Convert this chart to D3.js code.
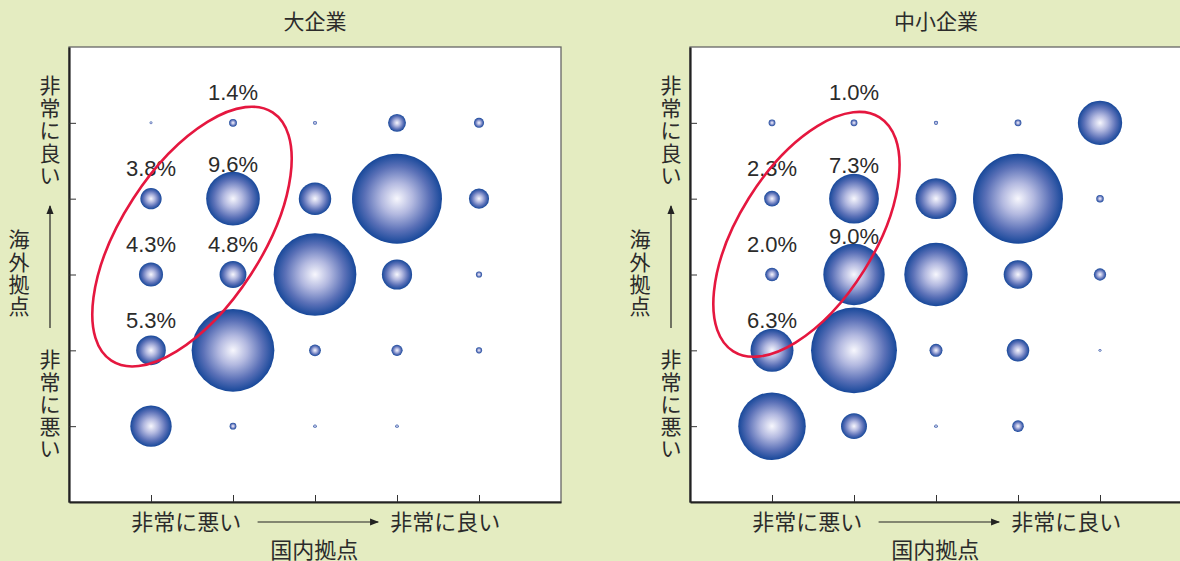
<!DOCTYPE html>
<html>
<head>
<meta charset="utf-8">
<script src="https://cdn.jsdelivr.net/npm/d3@7"></script>
<style>
  body { margin: 0; background: #e4ecc1; }
  svg { display: block; }
  .jp { font-family: "Noto Sans CJK JP", "Noto Sans", sans-serif; fill: #2b2b2b; }
  .pct { font-family: "Liberation Sans", Arial, sans-serif; fill: #2b2b2b; }
</style>
</head>
<body>
<svg></svg>
<script>

var width = 1180;
var height = 561;

// levels 1 (非常に悪い) .. 5 (非常に良い)
var levels = [1, 2, 3, 4, 5];

// share of firms (%), rows = 海外拠点 level 1..5 (bottom to top), columns = 国内拠点 level 1..5
var largeValues = [
    [7.4, 1.2, 0.6, 0.6, 0],
    [5.3, 14.8, 2.1, 2.0, 1.1],
    [4.3, 4.8, 14.8, 5.4, 1.1],
    [3.8, 9.6, 5.8, 16.1, 3.6],
    [0.5, 1.4, 0.7, 3.2, 1.8]
];

var smeValues = [
    [9.9, 3.8, 0.5, 1.7, 0],
    [6.3, 12.6, 1.9, 3.3, 0.4],
    [2.0, 9.0, 9.3, 4.2, 1.8],
    [2.3, 7.3, 6.0, 13.2, 1.1],
    [1.0, 1.0, 0.6, 1.0, 6.5]
];

// cells that get a % label: [domestic, overseas]
var labelledCells = [[1, 2], [1, 3], [1, 4], [2, 3], [2, 4], [2, 5]];

var panelTitles = ['大企業', '中小企業'];
var goodText = '非常に良い';
var badText = '非常に悪い';
var yTitle = '海外拠点';
var xTitle = '国内拠点';

//..................................................................................//

var svg = d3.select('svg')
    .attr('width', width)
    .attr('height', height);

var defs = svg.append('defs');

var grad = defs.append('radialGradient').attr('id', 'ball');
grad.append('stop').attr('offset', '0%').attr('stop-color', '#f7f7fd');
grad.append('stop').attr('offset', '35%').attr('stop-color', '#b3b9e0');
grad.append('stop').attr('offset', '72%').attr('stop-color', '#5a70b7');
grad.append('stop').attr('offset', '100%').attr('stop-color', '#17489a');

defs.append('marker')
    .attr('id', 'arrow')
    .attr('viewBox', '0 0 10 10')
    .attr('refX', 9).attr('refY', 5)
    .attr('markerWidth', 9).attr('markerHeight', 9)
    .attr('markerUnits', 'userSpaceOnUse')
    .attr('orient', 'auto')
    .append('path')
    .attr('d', 'M0,1L10,5L0,9Z')
    .attr('fill', '#222');

var panels = [
    { title: panelTitles[0], values: largeValues, left: 69, ring: { cx: 1.5, cy: 3.5, rx: 148, ry: 70, angle: -57 } },
    { title: panelTitles[1], values: smeValues, left: 690, ring: { cx: 1.42, cy: 3.53, rx: 138, ry: 68, angle: -58 } }
];

var fmt = d3.format('.1f');

panels.forEach(function (p) {

    var x = d3.scaleLinear().domain([0, 6]).range([p.left, p.left + 492]);
    var y = d3.scaleLinear().domain([0, 6]).range([502, 47]);

    var cells = [];
    p.values.forEach(function (row, j) {
        row.forEach(function (v, i) {
            cells.push({ dx: levels[i], ov: levels[j], v: v });
        });
    });

    var maxV = d3.max(cells, function (d) { return d.v; });
    var r = d3.scaleLinear().domain([0, maxV]).range([0, 45]);

    var g = svg.append('g');

    // plot box
    g.append('rect')
        .attr('x', x(0)).attr('y', y(6))
        .attr('width', x(6) - x(0)).attr('height', y(0) - y(6))
        .attr('fill', '#fff')
        .attr('stroke', '#666')
        .attr('stroke-width', 1.3);

    var xAxis = d3.axisBottom(x).tickValues(levels).tickSize(-7).tickSizeOuter(0).tickFormat('');
    var yAxis = d3.axisLeft(y).tickValues(levels).tickSize(-7).tickSizeOuter(0).tickFormat('');

    g.append('g').attr('transform', 'translate(0,' + y(0) + ')').call(xAxis)
        .call(function (a) {
            a.select('.domain').attr('stroke', '#222').attr('stroke-width', 2.2);
            a.selectAll('.tick line').attr('stroke', '#333').attr('stroke-width', 1);
        });

    g.append('g').attr('transform', 'translate(' + x(0) + ',0)').call(yAxis)
        .call(function (a) {
            a.select('.domain').attr('stroke', '#222').attr('stroke-width', 2.2);
            a.selectAll('.tick line').attr('stroke', '#333').attr('stroke-width', 1);
        });

    // bubbles
    g.selectAll('circle.ball')
        .data(cells.filter(function (d) { return d.v > 0; }))
        .enter()
        .append('circle')
        .attr('class', 'ball')
        .attr('cx', function (d) { return x(d.dx); })
        .attr('cy', function (d) { return y(d.ov); })
        .attr('r', function (d) { return Math.max(1.2, r(d.v)); })
        .attr('fill', 'url(#ball)');

    // % labels
    var lab = labelledCells.map(function (c) {
        return { dx: c[0], ov: c[1], v: p.values[c[1] - 1][c[0] - 1] };
    });

    g.selectAll('text.pct')
        .data(lab)
        .enter()
        .append('text')
        .attr('class', 'pct')
        .attr('x', function (d) { return x(d.dx); })
        .attr('y', function (d) { return Math.min(y(d.ov + 0.4), y(d.ov) - r(d.v) - 8); })
        .attr('dy', '0.35em')
        .attr('text-anchor', 'middle')
        .style('font-size', '22px')
        .text(function (d) { return fmt(d.v) + '%'; });

    // red ring
    g.append('ellipse')
        .attr('transform', 'translate(' + x(p.ring.cx) + ',' + y(p.ring.cy) + ') rotate(' + p.ring.angle + ')')
        .attr('rx', p.ring.rx)
        .attr('ry', p.ring.ry)
        .attr('fill', 'none')
        .attr('stroke', '#e5173f')
        .attr('stroke-width', 2.6);

    // title
    g.append('text')
        .attr('class', 'jp')
        .attr('x', x(3)).attr('y', 22)
        .attr('dy', '0.35em')
        .attr('text-anchor', 'middle')
        .style('font-size', '21px')
        .text(p.title);

    // x axis texts
    var yx = 522;
    g.append('text').attr('class', 'jp')
        .attr('x', x(1.43)).attr('y', yx).attr('dy', '0.35em')
        .attr('text-anchor', 'middle').style('font-size', '22px')
        .text(badText);
    g.append('text').attr('class', 'jp')
        .attr('x', x(4.59)).attr('y', yx).attr('dy', '0.35em')
        .attr('text-anchor', 'middle').style('font-size', '22px')
        .text(goodText);
    g.append('line')
        .attr('x1', x(2.3)).attr('x2', x(3.77))
        .attr('y1', yx).attr('y2', yx)
        .attr('stroke', '#222').attr('stroke-width', 1.2)
        .attr('marker-end', 'url(#arrow)');
    g.append('text').attr('class', 'jp')
        .attr('x', x(2.99)).attr('y', 550).attr('dy', '0.35em')
        .attr('text-anchor', 'middle').style('font-size', '22px')
        .text(xTitle);

    // y axis texts, stacked vertically one character at a time
    var vcol = function (str, cx, top, step) {
        g.selectAll(null)
            .data(str.split(''))
            .enter()
            .append('text')
            .attr('class', 'jp')
            .attr('x', cx)
            .attr('y', function (d, i) { return top + i * step; })
            .attr('dy', '0.35em')
            .attr('text-anchor', 'middle')
            .style('font-size', '21px')
            .text(function (d) { return d; });
    };

    vcol(goodText, x(0) - 19, 86, 22.5);
    vcol(badText, x(0) - 19, 360, 22.2);
    vcol(yTitle, x(0) - 50, 240, 22.3);

    g.append('line')
        .attr('x1', x(0) - 19).attr('x2', x(0) - 19)
        .attr('y1', 328).attr('y2', 206)
        .attr('stroke', '#222').attr('stroke-width', 1.2)
        .attr('marker-end', 'url(#arrow)');
});

</script>
</body>
</html>
